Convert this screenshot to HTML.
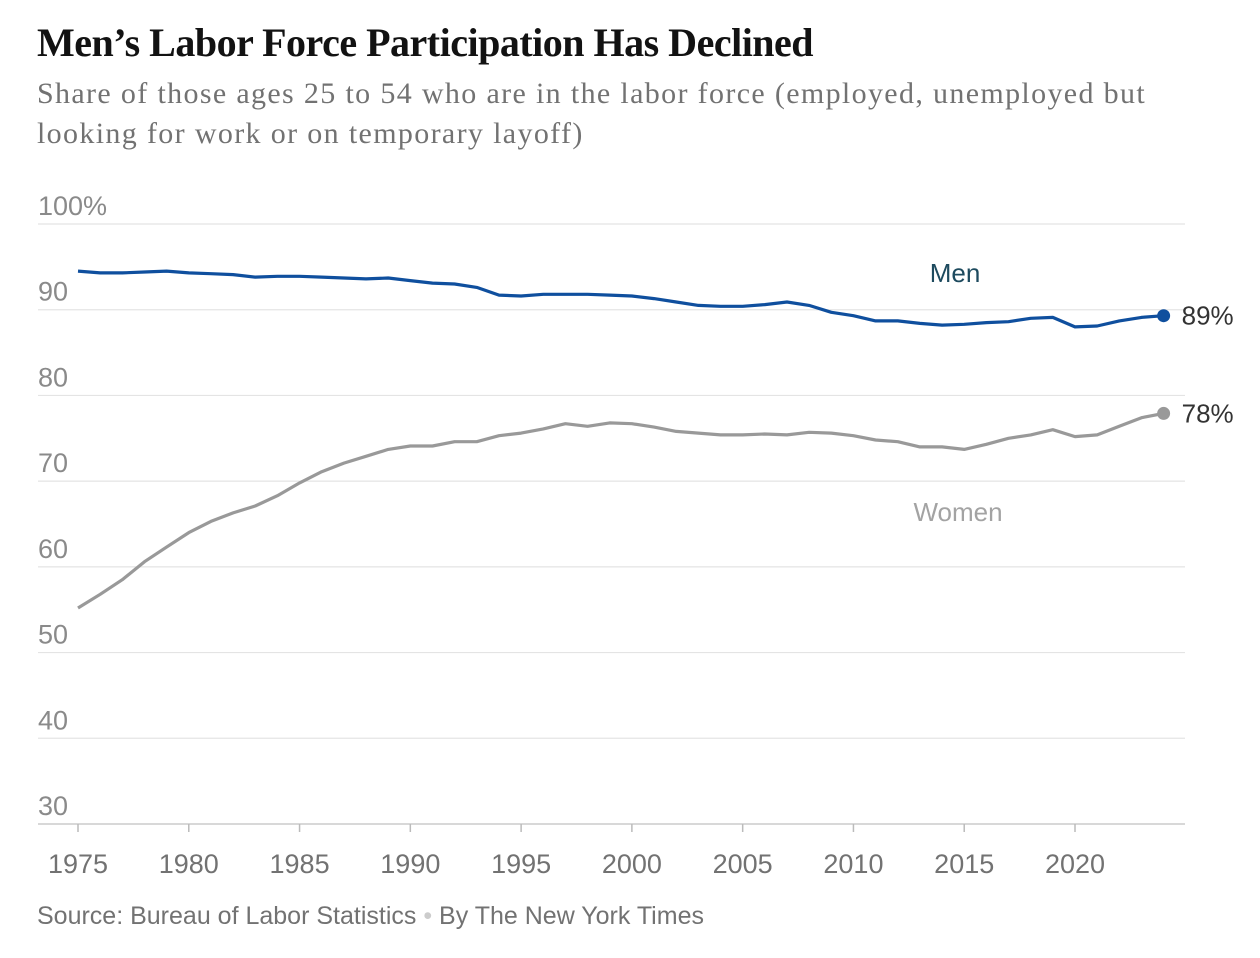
<!DOCTYPE html>
<html><head><meta charset="utf-8"><style>
body{margin:0;background:#fff;width:1260px;height:958px;overflow:hidden;font-family:"Liberation Sans",sans-serif}
#title{position:absolute;left:37px;top:19px;font-family:"Liberation Serif",serif;font-weight:bold;font-size:40px;color:#121212;letter-spacing:-0.5px}
#sub{position:absolute;left:37px;top:74px;white-space:nowrap;font-family:"Liberation Serif",serif;font-size:30px;letter-spacing:1.35px;line-height:40px;color:#727272}
#src{position:absolute;left:37px;top:902px;font-size:25px;color:#727272}
svg{position:absolute;left:0;top:0}
</style></head><body>
<div id="title">Men’s Labor Force Participation Has Declined</div>
<div id="sub">Share of those ages 25 to 54 who are in the labor force (employed, unemployed but<br>looking for work or on temporary layoff)</div>
<svg id="chart" width="1260" height="958"></svg>
<div id="src">Source: Bureau of Labor Statistics <span style="color:#ccc">•</span> By The New York Times</div>
<script>
const years=[1975,1976,1977,1978,1979,1980,1981,1982,1983,1984,1985,1986,1987,1988,1989,1990,1991,1992,1993,1994,1995,1996,1997,1998,1999,2000,2001,2002,2003,2004,2005,2006,2007,2008,2009,2010,2011,2012,2013,2014,2015,2016,2017,2018,2019,2020,2021,2022,2023,2024];
const men=[94.5,94.3,94.3,94.4,94.5,94.3,94.2,94.1,93.8,93.9,93.9,93.8,93.7,93.6,93.7,93.4,93.1,93.0,92.6,91.7,91.6,91.8,91.8,91.8,91.7,91.6,91.3,90.9,90.5,90.4,90.4,90.6,90.9,90.5,89.7,89.3,88.7,88.7,88.4,88.2,88.3,88.5,88.6,89.0,89.1,88.0,88.1,88.7,89.1,89.3];
const women=[55.2,56.8,58.5,60.6,62.3,64.0,65.3,66.3,67.1,68.3,69.8,71.1,72.1,72.9,73.7,74.1,74.1,74.6,74.6,75.3,75.6,76.1,76.7,76.4,76.8,76.7,76.3,75.8,75.6,75.4,75.4,75.5,75.4,75.7,75.6,75.3,74.8,74.6,74.0,74.0,73.7,74.3,75.0,75.4,76.0,75.2,75.4,76.4,77.4,77.9];
const yTicks=[100,90,80,70,60,50,40,30];
const yTickLabels=["100%","90","80","70","60","50","40","30"];
const xTicks=[1975,1980,1985,1990,1995,2000,2005,2010,2015,2020];
const NS="http://www.w3.org/2000/svg";
const svg=document.getElementById('chart');
const x=v=>78+(v-1975)*(997/45);
const y=v=>224+(100-v)*(600/70);
function mk(t,a,p){const e=document.createElementNS(NS,t);for(const k in a)e.setAttribute(k,a[k]);(p||svg).appendChild(e);return e;}
yTicks.forEach((t,i)=>{
 const g=mk('line',{x1:38,x2:1185,y1:y(t),y2:y(t),stroke:t===30?'#ccc':'#e4e4e4','stroke-width':t===30?1.5:1.2});
 
 
 const l=mk('text',{x:38,y:y(t)-9,'font-size':27,fill:'#8a8a8a','font-family':'Liberation Sans, sans-serif'});
 l.textContent=yTickLabels[i];
 
 
});
xTicks.forEach(t=>{
 const k=mk('line',{x1:x(t),x2:x(t),y1:y(30),y2:y(30)+8,stroke:'#bbb','stroke-width':1.5});
 
 
 const l=mk('text',{x:x(t),y:873,'font-size':27,fill:'#727272','text-anchor':'middle','font-family':'Liberation Sans, sans-serif'});
 l.textContent=t;
 
 
});
function series(vals,color,name){
 const d=vals.map((v,i)=>(i?'L':'M')+x(years[i]).toFixed(1)+','+y(v).toFixed(1)).join('');
 const p=mk('path',{d:d,fill:'none',stroke:color,'stroke-width':3.2,'stroke-linejoin':'round'});
 
 
 const n=vals.length-1;
 const c=mk('circle',{cx:x(years[n]),cy:y(vals[n]),r:6.5,fill:color});
 
 
 const l=mk('text',{x:x(years[n])+18,y:y(vals[n])+9,'font-size':26,fill:'#333','font-family':'Liberation Sans, sans-serif'});
 l.textContent=Math.round(vals[n])+'%';
 
 
}
series(women,'#999999','women');
series(men,'#0f4f9e','men');
const m=mk('text',{x:955,y:282,'font-size':26,fill:'#1d4a5e','text-anchor':'middle','font-family':'Liberation Sans, sans-serif'});
m.textContent='Men';


const w=mk('text',{x:958,y:521,'font-size':26,fill:'#a3a3a3','text-anchor':'middle','font-family':'Liberation Sans, sans-serif'});
w.textContent='Women';


</script>
</body></html>
